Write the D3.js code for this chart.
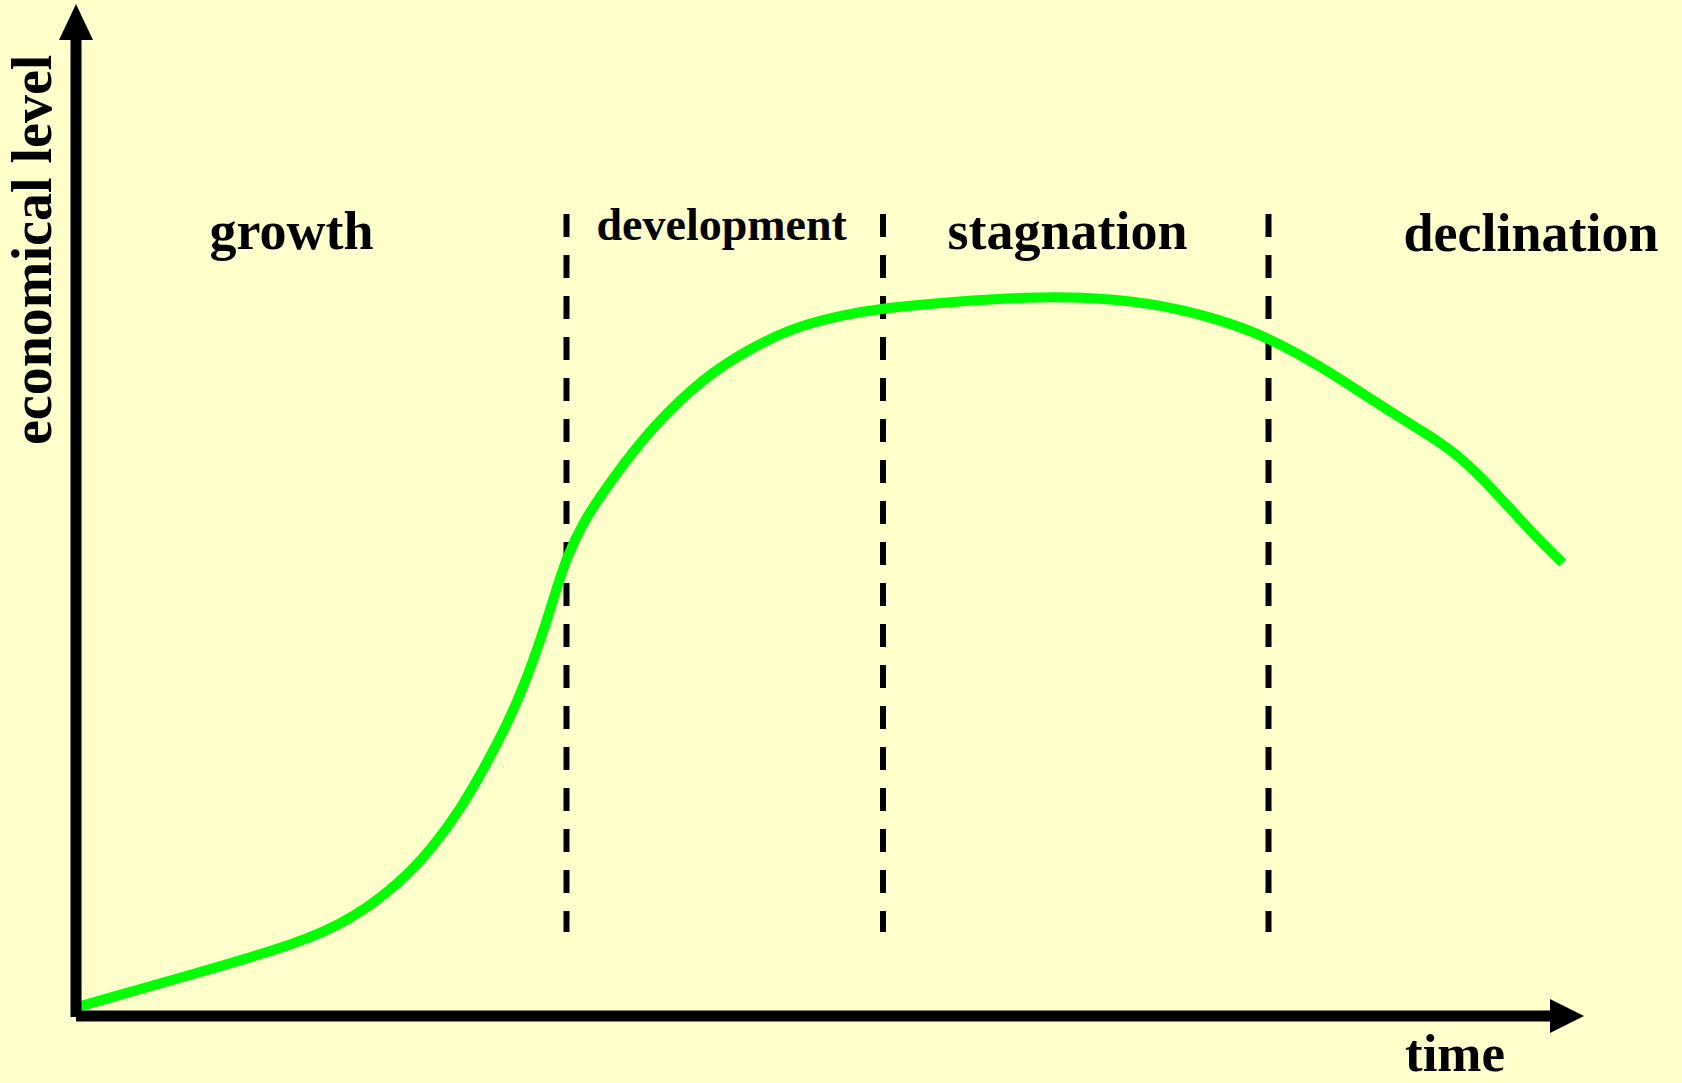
<!DOCTYPE html>
<html>
<head>
<meta charset="utf-8">
<script src="https://cdn.jsdelivr.net/npm/d3@7"></script>
<style>
    html, body { margin: 0; padding: 0; background: #ffffcc; }
    svg { display: block; }
    text { font-family: "Liberation Serif", "Times New Roman", serif; font-weight: bold; fill: #000; }
</style>
</head>
<body>
<svg id="chart" width="1682" height="1083"></svg>
<script>
// Economical level over time (arbitrary units 0-100)
var timeValues  = [0.1, 8.3, 14.9, 18.3, 21.6, 23.8, 25.6, 27.4, 28.7, 29.6, 30.5, 31.4, 31.8,
                   32.7, 33.8, 34.9, 37.8, 41.1, 44.1, 47.8, 51.1, 53.8, 58.1, 63.6, 66.9,
                   71.4, 75.8, 79.5, 83.4, 86.7, 90.5, 92.3, 94.5, 96.7, 99.1];
var levelValues = [0.9, 4.4, 7.3, 9.6, 13.3, 16.9, 20.6, 25.3, 29.1, 32.1, 35.6, 39.6, 41.6,
                   45.9, 49.3, 51.9, 57.9, 62.9, 66.1, 68.9, 70.1, 70.8, 71.4, 71.9, 71.9,
                   71.4, 69.9, 67.9, 64.6, 61.3, 57.8, 55.9, 52.6, 48.9, 45.3];

// phase borders (time) and names
var phaseBorders = [32.7, 53.8, 79.5];
var phaseNames   = ["growth", "development", "stagnation", "declination"];

var xTitle = "time";
var yTitle = "economical level";

var svg = d3.select("#chart");

var x = d3.scaleLinear().domain([0, 100]).range([76, 1576]);
var y = d3.scaleLinear().domain([0, 100]).range([1016, 16]);

svg.append("rect")
    .attr("width", 1682).attr("height", 1083)
    .attr("fill", "#ffffcc");

// dashed phase borders
svg.selectAll("line.border")
    .data(phaseBorders)
    .enter().append("line")
    .attr("class", "border")
    .attr("x1", function(d){ return x(d); })
    .attr("x2", function(d){ return x(d); })
    .attr("y1", y(80.2))
    .attr("y2", y(8.4))
    .attr("stroke", "#000")
    .attr("stroke-width", 6)
    .attr("stroke-dasharray", "23 18");

// phase labels
var labelAt = [
    {t: 8.9,  lv: 76.7, size: 54},
    {t: 34.7, lv: 77.6, size: 46},
    {t: 58.1, lv: 76.7, size: 54},
    {t: 88.5, lv: 76.5, size: 54}
];
svg.selectAll("text.phase")
    .data(phaseNames)
    .enter().append("text")
    .attr("class", "phase")
    .attr("x", function(d, i){ return x(labelAt[i].t); })
    .attr("y", function(d, i){ return y(labelAt[i].lv); })
    .style("font-size", function(d, i){ return labelAt[i].size + "px"; })
    .text(function(d){ return d; });

// the curve
var points = timeValues.map(function(t, i){ return [t, levelValues[i]]; });
var line = d3.line()
    .x(function(d){ return x(d[0]); })
    .y(function(d){ return y(d[1]); })
    .curve(d3.curveBasis);

svg.append("path")
    .datum(points)
    .attr("d", line)
    .attr("fill", "none")
    .attr("stroke", "#00ff00")
    .attr("stroke-width", 10)
    .attr("stroke-linejoin", "round");

// axes with arrow heads
var x0 = x(0), y0 = y(0);

svg.append("line")
    .attr("x1", x0).attr("x2", x0)
    .attr("y1", y0 + 1).attr("y2", 38)
    .attr("stroke", "#000").attr("stroke-width", 11);
svg.append("path")
    .attr("d", "M" + x0 + ",4L" + (x0 - 17) + ",40L" + (x0 + 17) + ",40Z")
    .attr("fill", "#000");

svg.append("line")
    .attr("x1", x0).attr("x2", 1552)
    .attr("y1", y0).attr("y2", y0)
    .attr("stroke", "#000").attr("stroke-width", 11);
svg.append("path")
    .attr("d", "M1584," + y0 + "L1550," + (y0 - 17) + "L1550," + (y0 + 17) + "Z")
    .attr("fill", "#000");

// axis titles
svg.append("text")
    .attr("x", 1405)
    .attr("y", 1071)
    .style("font-size", "53px")
    .text(xTitle);

svg.append("text")
    .attr("transform", "translate(51,445) rotate(-90)")
    .style("font-size", "56px")
    .text(yTitle);
</script>
</body>
</html>
